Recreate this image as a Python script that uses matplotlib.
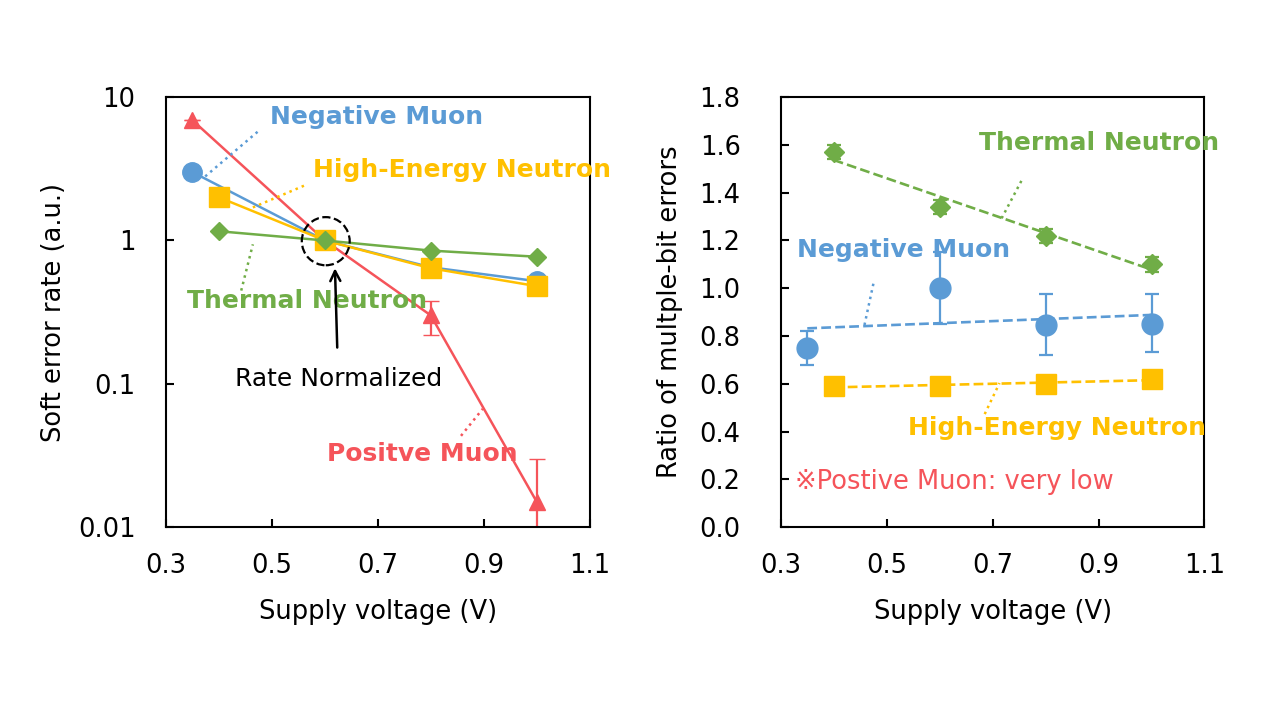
import numpy as np
import matplotlib
matplotlib.use("Agg")
from matplotlib import pyplot as plt
from matplotlib.patches import Ellipse

plt.rcParams['font.family'] = ['DejaVu Sans', 'Noto Sans CJK JP']

BLUE = "#5B9BD5"
YELLOW = "#FFC000"
GREEN = "#70AD47"
RED = "#F5545A"

# left panel: soft error rate (normalized at 0.6 V)
neg_muon_v = [0.35, 0.6, 0.8, 1.0]
neg_muon_ser = [3.0, 1.0, 0.65, 0.52]
he_neutron_v = [0.4, 0.6, 0.8, 1.0]
he_neutron_ser = [2.0, 1.0, 0.64, 0.48]
th_neutron_v = [0.4, 0.6, 0.8, 1.0]
th_neutron_ser = [1.16, 1.0, 0.85, 0.77]
pos_muon_v = [0.35, 0.6, 0.8, 1.0]
pos_muon_ser = [6.9, 1.0, 0.30, 0.015]
pos_muon_err_lo = [0.0, 0.0, 0.08, 0.012]
pos_muon_err_hi = [0.0, 0.0, 0.08, 0.015]

# right panel: ratio of multiple-bit errors
mbu_th_v = [0.4, 0.6, 0.8, 1.0]
mbu_th = [1.57, 1.34, 1.22, 1.10]
mbu_th_err = [0.03, 0.03, 0.03, 0.03]
mbu_neg_v = [0.35, 0.6, 0.8, 1.0]
mbu_neg = [0.75, 1.0, 0.845, 0.85]
mbu_neg_err_lo = [0.07, 0.15, 0.125, 0.115]
mbu_neg_err_hi = [0.07, 0.15, 0.13, 0.125]
mbu_he_v = [0.4, 0.6, 0.8, 1.0]
mbu_he = [0.59, 0.59, 0.60, 0.62]

x_ticks = [0.3, 0.5, 0.7, 0.9, 1.1]
log_ticks = [0.01, 0.1, 1, 10]
log_labels = ["0.01", "0.1", "1", "10"]
ratio_ticks = [0.0, 0.2, 0.4, 0.6, 0.8, 1.0, 1.2, 1.4, 1.6, 1.8]

FS = 18.5


def style_axes(ax, ypad):
    for s in ax.spines.values():
        s.set_linewidth(1.5)
        s.set_color("black")
    ax.tick_params(direction="in", length=6, width=1.5, labelsize=FS,
                   top=False, right=False)
    ax.tick_params(axis="x", pad=19)
    ax.tick_params(axis="y", pad=ypad)
    ax.tick_params(which="minor", length=0)


def main():
    fig = plt.figure(figsize=(12.8, 7.2), dpi=100)
    ax1 = fig.add_axes([0.1297, 0.268, 0.331, 0.597])
    ax2 = fig.add_axes([0.610, 0.268, 0.331, 0.597])

    # ---- left
    ax1.errorbar(pos_muon_v, pos_muon_ser, yerr=[pos_muon_err_lo, pos_muon_err_hi],
                 color=RED, marker="^", ms=12, lw=1.8, capsize=6, elinewidth=1.6,
                 zorder=1)
    ax1.plot(neg_muon_v, neg_muon_ser, color=BLUE, marker="o", ms=14, lw=1.8, zorder=2)
    ax1.plot(he_neutron_v, he_neutron_ser, color=YELLOW, marker="s", ms=14, lw=1.8,
             zorder=3)
    ax1.plot(th_neutron_v, th_neutron_ser, color=GREEN, marker="D", ms=9.5, lw=1.8,
             zorder=4)

    ax1.set_yscale("log")
    ax1.set_xlim(0.3, 1.1)
    ax1.set_ylim(0.01, 10)
    ax1.set_xticks(x_ticks)
    ax1.set_xticklabels([f"{v:.1f}" for v in x_ticks])
    ax1.set_yticks(log_ticks)
    ax1.set_yticklabels(log_labels)
    ax1.set_xlabel("Supply voltage (V)", fontsize=FS, labelpad=14)
    ax1.set_ylabel("Soft error rate (a.u.)", fontsize=FS, labelpad=8)
    style_axes(ax1, 22)

    lab = dict(fontsize=18, fontweight="bold", ha="left", va="center", clip_on=False)
    ax1.text(0.496, 7.25, "Negative Muon", color=BLUE, **lab)
    ax1.plot([0.374, 0.474], [2.8, 5.78], ls=":", color=BLUE, lw=1.8)
    ax1.text(0.577, 3.09, "High-Energy Neutron", color=YELLOW, **lab)
    ax1.plot([0.464, 0.566], [1.70, 2.46], ls=":", color=YELLOW, lw=1.8)
    ax1.text(0.34, 0.38, "Thermal Neutron", color=GREEN, **lab)
    ax1.plot([0.442, 0.464], [0.447, 0.94], ls=":", color=GREEN, lw=1.8)
    ax1.text(0.604, 0.0324, "Positve Muon", color=RED, **lab)
    ax1.plot([0.857, 0.898], [0.0433, 0.0668], ls=":", color=RED, lw=1.8)

    ax1.add_patch(Ellipse((0.377, 0.665), 0.113, 0.112, transform=ax1.transAxes,
                          fill=False, ls="--", lw=1.6, color="black", zorder=5))
    ax1.annotate("Rate Normalized", xy=(0.619, 0.64), xytext=(0.625, 0.108),
                 fontsize=18, ha="center", va="center",
                 arrowprops=dict(arrowstyle="->", lw=1.8, color="black",
                                 shrinkA=12, shrinkB=0))

    # ---- right
    for xs, ys, col in [(mbu_th_v, mbu_th, GREEN), (mbu_neg_v, mbu_neg, BLUE),
                        (mbu_he_v, mbu_he, YELLOW)]:
        k, b = np.polyfit(xs, ys, 1)
        ax2.plot([xs[0], xs[-1]], [k * xs[0] + b, k * xs[-1] + b],
                 ls="--", color=col, lw=1.9)

    ax2.errorbar(mbu_th_v, mbu_th, yerr=mbu_th_err, color=GREEN, marker="D", ms=10,
                 ls="none", capsize=5, elinewidth=1.6, capthick=1.6)
    ax2.errorbar(mbu_neg_v, mbu_neg, yerr=[mbu_neg_err_lo, mbu_neg_err_hi], color=BLUE,
                 marker="o", ms=15, ls="none", capsize=5, elinewidth=1.6, capthick=1.6)
    ax2.plot(mbu_he_v, mbu_he, color=YELLOW, marker="s", ms=14, ls="none")

    ax2.set_xlim(0.3, 1.1)
    ax2.set_ylim(0.0, 1.8)
    ax2.set_xticks(x_ticks)
    ax2.set_xticklabels([f"{v:.1f}" for v in x_ticks])
    ax2.set_yticks(ratio_ticks)
    ax2.set_yticklabels([f"{v:.1f}" for v in ratio_ticks])
    ax2.set_xlabel("Supply voltage (V)", fontsize=FS, labelpad=14)
    ax2.set_ylabel("Ratio of multple-bit errors", fontsize=FS, labelpad=12)
    style_axes(ax2, 29)

    ax2.text(0.675, 1.607, "Thermal Neutron", color=GREEN, **lab)
    ax2.plot([0.717, 0.757], [1.293, 1.461], ls=":", color=GREEN, lw=1.8)
    ax2.text(0.330, 1.16, "Negative Muon", color=BLUE, **lab)
    ax2.plot([0.458, 0.475], [0.846, 1.021], ls=":", color=BLUE, lw=1.8)
    ax2.text(0.540, 0.414, "High-Energy Neutron", color=YELLOW, **lab)
    ax2.plot([0.685, 0.713], [0.473, 0.603], ls=":", color=YELLOW, lw=1.8)
    ax2.text(0.326, 0.188, "※Postive Muon: very low", color=RED, fontsize=18.5,
             ha="left", va="center")

    fig.savefig("out.png", dpi=100)


if __name__ == "__main__":
    main()
